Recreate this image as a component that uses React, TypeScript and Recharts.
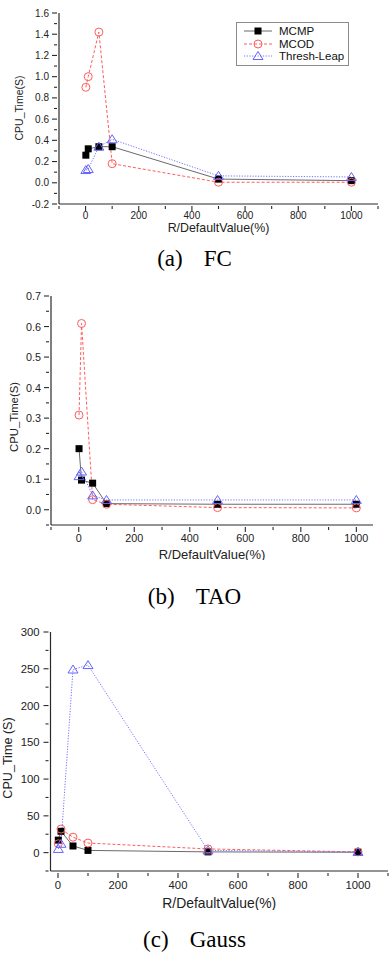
import React from "react";
import { Legend, Line, LineChart, XAxis, YAxis } from "recharts";

// R as a percentage of the default value
const rValues = [1, 10, 50, 100, 500, 1000];

// (a) FC
const fcMcmp = [0.26, 0.32, 0.34, 0.34, 0.035, 0.02];
const fcMcod = [0.9, 1.0, 1.42, 0.18, 0.005, 0.005];
const fcThresh = [0.12, 0.13, 0.34, 0.41, 0.065, 0.055];

// (b) TAO
const taoMcmp = [0.2, 0.097, 0.087, 0.02, 0.018, 0.018];
const taoMcod = [0.31, 0.61, 0.033, 0.018, 0.007, 0.006];
const taoThresh = [0.11, 0.125, 0.047, 0.032, 0.032, 0.032];

// (c) Gauss
const gaussMcmp = [17, 29, 9, 3, 1, 0.5];
const gaussMcod = [12, 32, 21, 13, 5, 1];
const gaussThresh = [5, 12, 249, 255, 3, 1];

// axis ticks (major ones get labels, the rest are minor)
const fcXTicks = [-100, 0, 100, 200, 300, 400, 500, 600, 700, 800, 900, 1000, 1100];
const fcYTicks = [-0.2, -0.1, 0, 0.1, 0.2, 0.3, 0.4, 0.5, 0.6, 0.7, 0.8, 0.9, 1.0, 1.1, 1.2, 1.3, 1.4, 1.5, 1.6];
const taoXTicks = [-100, 0, 100, 200, 300, 400, 500, 600, 700, 800, 900, 1000];
const taoYTicks = [-0.05, 0, 0.05, 0.1, 0.15, 0.2, 0.25, 0.3, 0.35, 0.4, 0.45, 0.5, 0.55, 0.6, 0.65, 0.7];
const gaussXTicks = [0, 100, 200, 300, 400, 500, 600, 700, 800, 900, 1000, 1100];
const gaussYTicks = [-25, 0, 25, 50, 75, 100, 125, 150, 175, 200, 225, 250, 275, 300];

const seriesNames: Record<string, string> = { mcmp: "MCMP", mcod: "MCOD", thresh: "Thresh-Leap" };

const lineStyles: Record<string, { stroke: string; dash?: string; mark: string }> = {
  mcmp: { stroke: "#6a6a6a", mark: "#000000" },
  mcod: { stroke: "#ff5c5c", dash: "3 2", mark: "#ff5c5c" },
  thresh: { stroke: "#7373ff", dash: "1.2 1.5", mark: "#6464ff" },
};

const SANS = "'Liberation Sans', Arial, sans-serif";
const SERIF = "'Liberation Serif', 'Times New Roman', serif";
const AXIS = "#2a2a2a";

const Marker = ({ kind, cx, cy }: { kind: string; cx: number; cy: number }) => {
  const c = lineStyles[kind].mark;
  if (kind === "mcmp") return <rect x={cx - 3.5} y={cy - 3.5} width={7} height={7} fill={c} />;
  if (kind === "mcod") return <circle cx={cx} cy={cy} r={4} fill="none" stroke={c} strokeWidth={1} />;
  return (
    <path
      d={`M${cx},${cy - 4.5} L${cx + 5},${cy + 3.5} L${cx - 5},${cy + 3.5} Z`}
      fill="none"
      stroke={c}
      strokeWidth={1}
    />
  );
};

const isMajor = (v: number, step: number) => Math.abs(v / step - Math.round(v / step)) < 1e-6;

const makeXTick = (step: number, size: number, gap: number) => (props: any) => {
  const { x, y, payload } = props;
  const v = payload.value;
  const major = isMajor(v, step) && v >= 0;
  return (
    <g>
      <line x1={x} x2={x} y1={y} y2={y + (major ? 5 : 3)} stroke={AXIS} strokeWidth={1.1} />
      {major && (
        <text x={x} y={y + gap} textAnchor="middle" dominantBaseline="central" fontSize={size} fontFamily={SANS} fill="#222">
          {v}
        </text>
      )}
    </g>
  );
};

const makeYTick = (step: number, size: number, gap: number, digits: number) => (props: any) => {
  const { x, y, payload } = props;
  const v = payload.value;
  const major = isMajor(v, step);
  return (
    <g>
      <line x1={x} x2={x - (major ? 5 : 3)} y1={y} y2={y} stroke={AXIS} strokeWidth={1.1} />
      {major && (
        <text x={x - gap} y={y} textAnchor="end" dominantBaseline="central" fontSize={size} fontFamily={SANS} fill="#222">
          {v.toFixed(digits)}
        </text>
      )}
    </g>
  );
};

const LegendBox = (props: any) => (
  <div
    style={{
      border: "1px solid #8c8c8c",
      background: "#fff",
      padding: "2px 0 2px 6px",
      fontFamily: SANS,
      fontSize: 11,
      lineHeight: "12.5px",
      color: "#111",
    }}
  >
    {(props.payload || []).map((item: any) => {
      const s = lineStyles[item.dataKey];
      return (
        <div key={item.dataKey} style={{ display: "flex", alignItems: "center", height: 12.5 }}>
          <svg width={32} height={12} style={{ marginRight: 4, flex: "none" }}>
            <line x1={1} x2={29} y1={6} y2={6} stroke={s.stroke} strokeDasharray={s.dash} />
            <Marker kind={item.dataKey} cx={15} cy={6} />
          </svg>
          <span style={{ fontSize: 11.5 }}>{item.value}</span>
        </div>
      );
    })}
  </div>
);

type PanelProps = {
  top: number;
  height: number;
  plotTop: number;
  plotBottom: number;
  plotLeft: number;
  plotRight: number;
  xDomain: [number, number];
  yDomain: [number, number];
  xTicks: number[];
  yTicks: number[];
  yStep: number;
  digits: number;
  tickSize: number;
  xGap: number;
  yGap: number;
  mcmp: number[];
  mcod: number[];
  thresh: number[];
  xLabelY: number;
  xLabelSize: number;
  yLabel: string;
  yLabelX: number;
  yLabelY: number;
  yLabelSize: number;
  legend?: boolean;
};

const Panel = (p: PanelProps) => {
  const rows = rValues.map((r, i) => ({ r, mcmp: p.mcmp[i], mcod: p.mcod[i], thresh: p.thresh[i] }));
  const xCenter = (p.plotLeft + p.plotRight) / 2;
  const ly = p.yLabelY - p.top;
  return (
    <div style={{ position: "absolute", left: 0, top: p.top }}>
      <LineChart
        width={389}
        height={p.height}
        data={rows}
        margin={{ top: p.plotTop - p.top, right: 389 - p.plotRight, bottom: 0, left: 0 }}
      >
        <XAxis
          type="number"
          dataKey="r"
          domain={p.xDomain}
          ticks={p.xTicks}
          interval={0}
          allowDataOverflow
          height={p.top + p.height - p.plotBottom}
          tickSize={0}
          tickLine={false}
          axisLine={{ stroke: AXIS, strokeWidth: 1.2 }}
          tick={makeXTick(200, p.tickSize, p.xGap)}
          label={{
            content: () => (
              <text
                x={xCenter}
                y={p.xLabelY - p.top}
                textAnchor="middle"
                dominantBaseline="central"
                fontSize={p.xLabelSize}
                fontFamily={SANS}
                fill="#222"
              >
                R/DefaultValue(%)
              </text>
            ),
          }}
        />
        <YAxis
          type="number"
          domain={p.yDomain}
          ticks={p.yTicks}
          interval={0}
          allowDataOverflow
          width={p.plotLeft}
          tickSize={0}
          tickLine={false}
          axisLine={{ stroke: AXIS, strokeWidth: 1.2 }}
          tick={makeYTick(p.yStep, p.tickSize, p.yGap, p.digits)}
          label={{
            content: () => (
              <text
                x={p.yLabelX}
                y={ly}
                transform={`rotate(-90 ${p.yLabelX} ${ly})`}
                textAnchor="middle"
                dominantBaseline="central"
                fontSize={p.yLabelSize}
                fontFamily={SANS}
                fill="#222"
              >
                {p.yLabel}
              </text>
            ),
          }}
        />
        {p.legend && (
          <Legend
            layout="horizontal"
            verticalAlign="middle"
            align="center"
            wrapperStyle={{ left: 236, top: 22 - p.top, width: 113 }}
            content={LegendBox}
          />
        )}
        {["mcmp", "mcod", "thresh"].map((k) => (
          <Line
            key={k}
            type="linear"
            dataKey={k}
            name={seriesNames[k]}
            stroke={lineStyles[k].stroke}
            strokeDasharray={lineStyles[k].dash}
            strokeWidth={1}
            isAnimationActive={false}
            activeDot={false}
            dot={(d: any) => <Marker key={`${k}-${d.index}`} kind={k} cx={d.cx} cy={d.cy} />}
          />
        ))}
      </LineChart>
    </div>
  );
};

const Caption = ({ y, tag, name }: { y: number; tag: string; name: string }) => (
  <div
    style={{
      position: "absolute",
      left: 0,
      width: 389,
      top: y - 13,
      height: 26,
      lineHeight: "26px",
      textAlign: "center",
      fontFamily: SERIF,
      fontSize: 23,
      color: "#000",
    }}
  >
    <span>{tag}</span>
    <span style={{ marginLeft: 21 }}>{name}</span>
  </div>
);

export default function App() {
  return (
    <div style={{ position: "absolute", left: 0, top: 0, width: 389, height: 954, background: "#fff" }}>
      <Panel
        top={0}
        height={240}
        plotTop={13}
        plotBottom={204}
        plotLeft={59}
        plotRight={378}
        xDomain={[-100, 1100]}
        yDomain={[-0.2, 1.6]}
        xTicks={fcXTicks}
        yTicks={fcYTicks}
        yStep={0.2}
        digits={1}
        tickSize={10}
        xGap={9}
        yGap={8}
        mcmp={fcMcmp}
        mcod={fcMcod}
        thresh={fcThresh}
        xLabelY={228}
        xLabelSize={12.4}
        yLabel="CPU_Time(S)"
        yLabelX={19}
        yLabelY={108}
        yLabelSize={10.5}
        legend
      />
      <Caption y={259} tag="(a)" name="FC" />
      <Panel
        top={280}
        height={280}
        plotTop={296}
        plotBottom={525}
        plotLeft={51}
        plotRight={373}
        xDomain={[-100, 1060]}
        yDomain={[-0.05, 0.7]}
        xTicks={taoXTicks}
        yTicks={taoYTicks}
        yStep={0.1}
        digits={1}
        tickSize={10.8}
        xGap={11}
        yGap={8}
        mcmp={taoMcmp}
        mcod={taoMcod}
        thresh={taoThresh}
        xLabelY={554}
        xLabelSize={13}
        yLabel="CPU_Time(S)"
        yLabelX={14}
        yLabelY={417}
        yLabelSize={11.3}
      />
      <Caption y={597} tag="(b)" name="TAO" />
      <Panel
        top={620}
        height={290}
        plotTop={632}
        plotBottom={871}
        plotLeft={50.5}
        plotRight={388}
        xDomain={[-25, 1100]}
        yDomain={[-25, 300]}
        xTicks={gaussXTicks}
        yTicks={gaussYTicks}
        yStep={50}
        digits={0}
        tickSize={11.3}
        xGap={12}
        yGap={9}
        mcmp={gaussMcmp}
        mcod={gaussMcod}
        thresh={gaussThresh}
        xLabelY={903}
        xLabelSize={13.9}
        yLabel="CPU_Time (S)"
        yLabelX={8}
        yLabelY={758}
        yLabelSize={12.6}
      />
      <Caption y={940} tag="(c)" name="Gauss" />
    </div>
  );
}
